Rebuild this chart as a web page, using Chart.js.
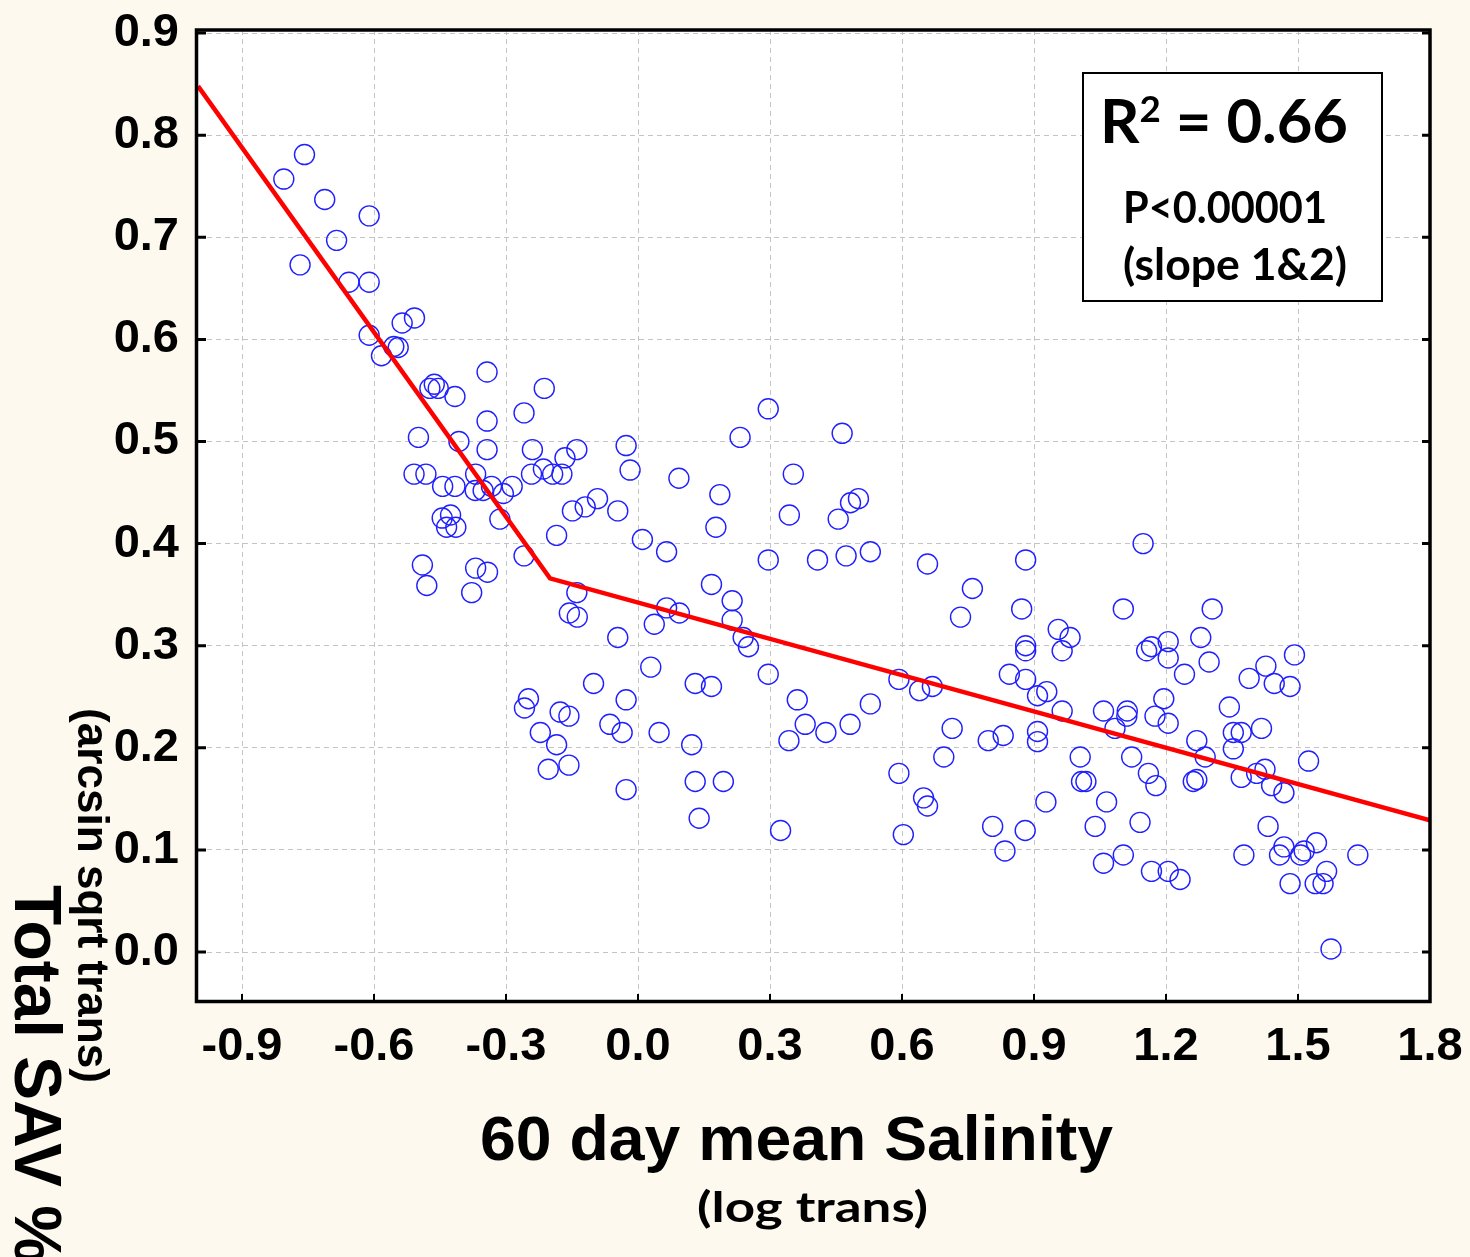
<!DOCTYPE html>
<html><head><meta charset="utf-8">
<script src="https://cdn.jsdelivr.net/npm/chart.js@4.4.0/dist/chart.umd.min.js"></script>
<style>html,body{margin:0;padding:0;background:#fdf9ef;}canvas{display:block}</style>
</head><body>
<canvas id="c" width="1470" height="1257"></canvas>
<script>
// ---- data ----
const xTicks = [-0.9, -0.6, -0.3, 0.0, 0.3, 0.6, 0.9, 1.2, 1.5, 1.8];
const yTicks = [0.0, 0.1, 0.2, 0.3, 0.4, 0.5, 0.6, 0.7, 0.8, 0.9];
const salinity = [
 -0.758,-0.805,-0.712,-0.611,-0.685,-0.768,-0.657,-0.611,-0.536,-0.508,-0.611,-0.555,-0.545,-0.583,
 -0.343,-0.213,-0.473,-0.463,-0.454,-0.416,-0.259,-0.343,-0.499,-0.407,-0.343,-0.240,-0.139,-0.166,
 -0.509,-0.482,-0.369,-0.242,-0.215,-0.194,-0.173,-0.444,-0.416,-0.370,-0.352,-0.333,-0.306,-0.286,
 -0.149,-0.120,-0.092,-0.046,-0.445,-0.426,-0.435,-0.414,-0.314,-0.185,-0.490,-0.480,-0.369,-0.342,
 -0.378,-0.259,-0.139,-0.156,-0.138,
 -0.027,-0.018,0.093,0.186,0.296,0.232,0.177,0.010,0.065,0.296,0.167,0.214,0.065,0.094,0.214,0.037,-0.046,
 0.239,0.251,0.029,0.296,-0.101,0.130,0.167,-0.249,-0.258,-0.027,-0.177,-0.157,-0.064,-0.036,-0.222,
 -0.185,0.048,0.122,-0.204,-0.157,-0.027,0.130,0.194,0.139,
 0.464,0.353,0.501,0.483,0.344,0.455,0.408,0.473,0.528,0.658,0.760,0.733,
 0.362,0.380,0.343,0.427,0.482,0.528,0.593,0.640,0.669,0.714,0.695,0.796,0.830,0.593,0.649,0.658,
 0.324,0.603,0.806,0.834,
 1.148,0.881,0.872,1.103,1.305,0.955,0.982,0.964,0.881,0.881,1.167,1.156,1.205,1.205,1.279,1.298,
 1.242,0.844,0.881,0.908,0.929,0.964,1.058,1.112,1.111,1.084,1.195,1.175,1.205,0.908,0.908,1.270,
 1.289,1.005,1.122,1.160,1.177,1.008,1.018,1.262,1.270,0.927,1.065,0.880,1.039,1.141,1.058,1.103,
 1.167,1.205,1.232,
 1.492,1.427,1.389,1.446,1.482,1.344,1.417,1.353,1.371,1.353,1.371,1.406,1.425,1.440,1.468,1.524,
 1.432,1.377,1.468,1.458,1.506,1.514,1.542,1.636,1.482,1.539,1.557,1.565,1.575
];
const savCover = [
 0.781,0.757,0.737,0.721,0.697,0.673,0.656,0.656,0.616,0.621,0.604,0.593,0.592,0.584,
 0.568,0.552,0.552,0.556,0.552,0.544,0.528,0.520,0.504,0.500,0.492,0.492,0.492,0.484,
 0.468,0.468,0.468,0.468,0.473,0.468,0.468,0.456,0.456,0.452,0.452,0.456,0.449,0.456,
 0.432,0.436,0.444,0.432,0.425,0.428,0.416,0.416,0.424,0.408,0.379,0.359,0.376,0.372,
 0.352,0.388,0.352,0.332,0.328,
 0.496,0.472,0.464,0.448,0.532,0.504,0.416,0.404,0.392,0.384,0.360,0.344,0.337,0.332,0.325,0.321,0.308,
 0.308,0.299,0.279,0.272,0.263,0.263,0.260,0.248,0.239,0.247,0.235,0.231,0.223,0.215,0.215,
 0.203,0.215,0.203,0.179,0.183,0.159,0.167,0.167,0.131,
 0.508,0.468,0.444,0.440,0.428,0.424,0.384,0.388,0.392,0.380,0.356,0.328,
 0.247,0.223,0.207,0.215,0.223,0.243,0.267,0.256,0.260,0.219,0.191,0.207,0.212,0.175,0.151,0.143,
 0.119,0.115,0.123,0.099,
 0.400,0.384,0.336,0.336,0.336,0.316,0.308,0.295,0.300,0.295,0.299,0.295,0.304,0.288,0.308,0.284,
 0.272,0.272,0.267,0.251,0.255,0.236,0.236,0.236,0.231,0.219,0.248,0.231,0.224,0.216,0.206,0.207,
 0.191,0.191,0.191,0.175,0.163,0.167,0.167,0.167,0.169,0.147,0.147,0.119,0.123,0.127,0.087,0.095,
 0.079,0.079,0.071,
 0.291,0.280,0.268,0.263,0.260,0.240,0.219,0.215,0.215,0.199,0.171,0.175,0.179,0.163,0.156,0.187,
 0.123,0.095,0.103,0.095,0.095,0.099,0.107,0.095,0.067,0.067,0.067,0.079,0.003
];
const fitX = [-1.0, -0.2, 1.8];
const fitY = [0.848, 0.366, 0.129];

const scatterData = salinity.map((x, i) => ({x: x, y: savCover[i]}));
const fitData = fitX.map((x, i) => ({x: x, y: fitY[i]}));

const CREAM = '#fdf9ef';

function fitText(ctx, parts, x, y, width, rot) {
  ctx.save();
  ctx.translate(x, y);
  if (rot) ctx.rotate(rot);
  ctx.textAlign = 'left';
  ctx.textBaseline = 'alphabetic';
  ctx.fillStyle = '#000';
  let total = 0;
  parts.forEach(p => { ctx.font = p.font; p.w = ctx.measureText(p.t).width; total += p.w; });
  if (width) ctx.scale(width / total, 1);
  let cx = 0;
  parts.forEach(p => { ctx.font = p.font; ctx.fillText(p.t, cx, p.dy || 0); cx += p.w; });
  ctx.restore();
}

function noPad(s) { s.paddingTop = 0; s.paddingBottom = 0; s.paddingLeft = 0; s.paddingRight = 0; }

const decor = {
  id: 'decor',
  beforeDraw(chart) {
    const {ctx, chartArea: a} = chart;
    ctx.save();
    ctx.fillStyle = CREAM;
    ctx.fillRect(0, 0, chart.width, chart.height);
    ctx.fillStyle = '#ffffff';
    ctx.fillRect(a.left, a.top, a.right - a.left, a.bottom - a.top);
    ctx.restore();
  },
  afterDraw(chart) {
    const {ctx, chartArea: a, scales} = chart;
    ctx.save();
    // frame
    ctx.strokeStyle = '#000';
    ctx.lineWidth = 3.5;
    ctx.strokeRect(a.left - 1.5, a.top, a.right - a.left + 1.5, a.bottom - a.top + 1.5);
    // inward tick marks
    ctx.lineWidth = 3;
    yTicks.forEach(v => {
      const py = scales.y.getPixelForValue(v);
      ctx.beginPath();
      ctx.moveTo(a.left, py); ctx.lineTo(a.left + 8, py);
      ctx.moveTo(a.right, py); ctx.lineTo(a.right - 8, py);
      ctx.stroke();
    });
    ctx.lineWidth = 2;
    xTicks.forEach(v => {
      const px = scales.x.getPixelForValue(v);
      ctx.beginPath();
      ctx.moveTo(px, a.bottom); ctx.lineTo(px, a.bottom - 6);
      ctx.stroke();
    });
    // annotation box
    ctx.fillStyle = '#fff';
    ctx.fillRect(1083, 73, 299, 228);
    ctx.strokeStyle = '#000';
    ctx.lineWidth = 2;
    ctx.strokeRect(1083, 73, 299, 228);
    ctx.restore();

    fitText(ctx, [
      {t: 'R', font: 'bold 62px Lato'},
      {t: '2', font: 'bold 37px Lato', dy: -21},
      {t: ' = 0.66', font: 'bold 62px Lato'}
    ], 1100, 143, 248);
    fitText(ctx, [{t: 'P<0.00001', font: 'bold 44px Lato'}], 1123, 223, 204);
    fitText(ctx, [{t: '(slope 1&2)', font: 'bold 44px Lato'}], 1123, 280, 224);

    // axis titles
    fitText(ctx, [{t: '60 day mean Salinity', font: 'bold 63px "Liberation Sans", Arial'}], 480, 1160, 633);
    fitText(ctx, [{t: '(log trans)', font: 'bold 42px Lato'}], 697, 1222, 231);
    fitText(ctx, [{t: 'Total SAV %', font: 'bold 66px "Liberation Sans", Arial'}], 15, 885, null, Math.PI / 2);
    fitText(ctx, [{t: '(arcsin sqrt trans)', font: 'bold 45px "Liberation Sans", Arial'}], 78, 708, 375, Math.PI / 2);
  }
};

new Chart(document.getElementById('c'), {
  type: 'scatter',
  data: {
    datasets: [
      {
        type: 'line',
        data: fitData,
        borderColor: '#ff0000',
        borderWidth: 4.5,
        pointRadius: 0,
        fill: false,
        tension: 0,
        order: 0
      },
      {
        data: scatterData,
        pointRadius: 10,
        pointHoverRadius: 10,
        pointBorderWidth: 1.4,
        pointBorderColor: '#1f1fff',
        pointBackgroundColor: 'rgba(0,0,0,0)',
        order: 1
      }
    ]
  },
  options: {
    responsive: false,
    animation: false,
    devicePixelRatio: 1,
    layout: {padding: {top: 30, right: 40, left: 0, bottom: 0}},
    plugins: {legend: {display: false}, tooltip: {enabled: false}},
    scales: {
      x: {
        type: 'linear',
        min: -1.0,
        max: 1.8,
        afterFit: s => { s.height = 257; noPad(s); },
        afterBuildTicks: s => { s.ticks = xTicks.map(v => ({value: v})); },
        border: {display: false, dash: [5, 4]},
        grid: {color: '#c4c4c4', lineWidth: 1, drawTicks: false},
        ticks: {
          autoSkip: false, maxRotation: 0, padding: 19, color: '#000',
          font: {family: '"Liberation Sans", Arial', weight: 'bold', size: 47},
          callback: v => Number(v).toFixed(1)
        }
      },
      y: {
        type: 'linear',
        min: -0.047,
        max: 0.903,
        afterFit: s => { s.width = 198; noPad(s); },
        afterBuildTicks: s => { s.ticks = yTicks.map(v => ({value: v})); },
        border: {display: false, dash: [5, 4]},
        grid: {color: '#c4c4c4', lineWidth: 1, drawTicks: false},
        ticks: {
          autoSkip: false, padding: 19, color: '#000',
          font: {family: '"Liberation Sans", Arial', weight: 'bold', size: 47},
          callback: v => Number(v).toFixed(1)
        }
      }
    }
  },
  plugins: [decor]
});
</script>
</body></html>
